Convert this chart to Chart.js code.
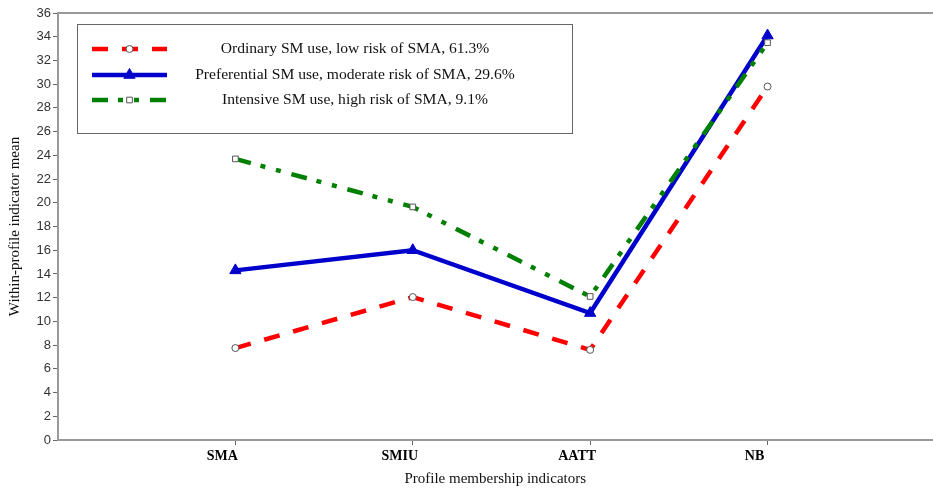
<!DOCTYPE html>
<html>
<head>
<meta charset="utf-8">
<script src="https://cdn.jsdelivr.net/npm/chart.js@4"></script>
<style>
  html, body { margin: 0; padding: 0; background: #fff; overflow: hidden; }
  #wrap { width: 933px; height: 490px; overflow: hidden; }
  #chart { display: block; }
</style>
</head>
<body>
<div id="wrap"><canvas id="chart" width="940" height="490"></canvas></div>
<script>
// ── DATA ─────────────────────────────────────────────────
const categories   = ['SMA', 'SMIU', 'AATT', 'NB'];
const ordinary     = [7.75, 12.05, 7.6, 29.8];
const preferential = [14.3, 16.0, 10.7, 34.1];
const intensive    = [23.7, 19.65, 12.1, 33.5];
const seriesLabels = [
  'Ordinary SM use, low risk of SMA, 61.3%',
  'Preferential SM use, moderate risk of SMA, 29.6%',
  'Intensive SM use, high risk of SMA, 9.1%',
];

const SERIF = '"Liberation Serif", "Times New Roman", serif';
const SANS  = '"Liberation Sans", Arial, sans-serif';

const pts = arr => arr.map((v, i) => ({ x: i + 1, y: v }));

// ── BOXED LEGEND (drawn on canvas) ───────────────────────
const boxLegend = {
  id: 'boxLegend',
  afterDraw(chart) {
    const c = chart.ctx;
    c.save();
    c.strokeStyle = '#666';
    c.lineWidth = 1;
    c.strokeRect(77.5, 24.5, 495, 109);
    const rows = [49, 75, 100];
    chart.data.datasets.forEach((ds, i) => {
      const y = rows[i];
      c.save();
      c.strokeStyle = ds.borderColor;
      c.lineWidth = ds.borderWidth;
      c.setLineDash(ds.borderDash || []);
      c.beginPath();
      c.moveTo(92, y);
      c.lineTo(167, y);
      c.stroke();
      c.restore();
      c.save();
      c.fillStyle = ds.pointBackgroundColor;
      c.strokeStyle = ds.pointBorderColor;
      c.lineWidth = ds.pointBorderWidth;
      Chart.helpers.drawPoint(c, { pointStyle: ds.pointStyle, radius: ds.pointRadius, borderWidth: ds.pointBorderWidth }, 129.5, y);
      c.restore();
      c.fillStyle = '#111';
      c.font = '15.6px ' + SERIF;
      c.textAlign = 'center';
      c.textBaseline = 'middle';
      c.fillText(ds.label, 355, y);
    });
    c.restore();
  }
};

new Chart(document.getElementById('chart'), {
  type: 'line',
  data: {
    datasets: [
      {
        label: seriesLabels[0], data: pts(ordinary), order: 0,
        borderColor: '#ff0000', borderWidth: 4.5, borderDash: [16, 14],
        pointStyle: 'circle', pointRadius: 3.5,
        pointBackgroundColor: '#fff', pointBorderColor: '#555', pointBorderWidth: 1,
      },
      {
        label: seriesLabels[1], data: pts(preferential), order: 2,
        borderColor: '#0000cc', borderWidth: 4.5, borderDash: [],
        pointStyle: 'triangle', pointRadius: 6.5,
        pointBackgroundColor: '#0000cc', pointBorderColor: '#0000cc', pointBorderWidth: 1,
      },
      {
        label: seriesLabels[2], data: pts(intensive), order: 1,
        borderColor: '#008000', borderWidth: 4.5, borderDash: [16, 10, 5, 11, 5, 11],
        pointStyle: 'rect', pointRadius: 4,
        pointBackgroundColor: '#fff', pointBorderColor: '#555', pointBorderWidth: 1,
      },
    ],
  },
  options: {
    responsive: false,
    animation: false,
    layout: { padding: 0 },
    elements: { line: { tension: 0 } },
    plugins: { legend: { display: false }, tooltip: { enabled: false } },
    scales: {
      x: {
        type: 'linear', position: 'bottom', min: 0, max: 4.93,
        afterBuildTicks: s => { s.ticks = categories.map((_, i) => ({ value: i + 1 })); },
        afterFit: s => { s.height = 50; },
        ticks: {
          callback: v => categories[v - 1] ?? '',
          color: '#000', font: { family: SERIF, size: 14, weight: 'bold' },
          padding: 3, labelOffset: -13, autoSkip: false, maxRotation: 0,
        },
        grid: { display: true, drawOnChartArea: false, drawTicks: true, tickLength: 5, color: '#666' },
        border: { color: '#999', width: 2 },
        title: {
          display: true, text: 'Profile membership indicators', color: '#111',
          font: { family: SERIF, size: 15 }, padding: { top: 0, bottom: 2 },
        },
      },
      x2: {
        type: 'linear', position: 'top', min: 0, max: 1,
        afterFit: s => { s.height = 13; },
        ticks: { display: false },
        grid: { display: false },
        border: { color: '#999', width: 2 },
      },
      y: {
        min: 0, max: 36,
        afterFit: s => { s.width = 58; },
        ticks: {
          stepSize: 2, color: '#333', font: { family: SANS, size: 13 }, padding: 2,
        },
        grid: { display: true, drawOnChartArea: false, drawTicks: true, tickLength: 5, color: '#666' },
        border: { color: '#999', width: 2 },
        title: {
          display: true, text: 'Within-profile indicator mean', color: '#111',
          font: { family: SERIF, size: 15 }, padding: { top: 6, bottom: 0 },
        },
      },
    },
  },
  plugins: [boxLegend],
});
</script>
</body>
</html>
